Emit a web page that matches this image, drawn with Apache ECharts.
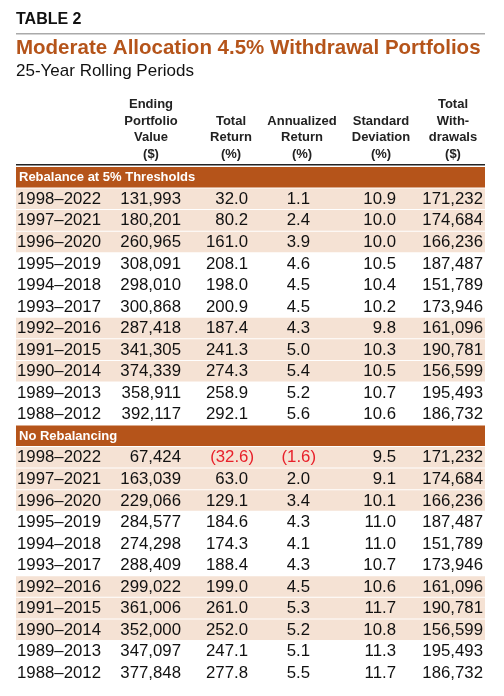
<!DOCTYPE html>
<html>
<head>
<meta charset="utf-8">
<script src="https://cdn.jsdelivr.net/npm/echarts@6/dist/echarts.min.js"></script>
<style>html,body{margin:0;padding:0;background:#fff}#chart{width:504px;height:696px}</style>
</head>
<body>
<div id="chart"></div>
<script>
// row labels
const periods = ['1998–2022', '1997–2021', '1996–2020', '1995–2019', '1994–2018', '1993–2017',
    '1992–2016', '1991–2015', '1990–2014', '1989–2013', '1988–2012'];
const sections = ['Rebalance at 5% Thresholds', 'No Rebalancing'];
const columnHeads = [
    ['Ending', 'Portfolio', 'Value', '($)'],
    ['Total', 'Return', '(%)'],
    ['Annualized', 'Return', '(%)'],
    ['Standard', 'Deviation', '(%)'],
    ['Total', 'With-', 'drawals', '($)']
];

// rebalance at 5% thresholds
const rebalEnding = [131993, 180201, 260965, 308091, 298010, 300868, 287418, 341305, 374339, 358911, 392117];
const rebalTotal = [32.0, 80.2, 161.0, 208.1, 198.0, 200.9, 187.4, 241.3, 274.3, 258.9, 292.1];
const rebalAnn = [1.1, 2.4, 3.9, 4.6, 4.5, 4.5, 4.3, 5.0, 5.4, 5.2, 5.6];
const rebalStd = [10.9, 10.0, 10.0, 10.5, 10.4, 10.2, 9.8, 10.3, 10.5, 10.7, 10.6];
const rebalWithdrawals = [171232, 174684, 166236, 187487, 151789, 173946, 161096, 190781, 156599, 195493, 186732];

// no rebalancing
const noEnding = [67424, 163039, 229066, 284577, 274298, 288409, 299022, 361006, 352000, 347097, 377848];
const noTotal = [-32.6, 63.0, 129.1, 184.6, 174.3, 188.4, 199.0, 261.0, 252.0, 247.1, 277.8];
const noAnn = [-1.6, 2.0, 3.4, 4.3, 4.1, 4.3, 4.5, 5.3, 5.2, 5.1, 5.5];
const noStd = [9.5, 9.1, 10.1, 11.0, 11.0, 10.7, 10.6, 11.7, 10.8, 11.3, 11.7];
const noWithdrawals = [171232, 174684, 166236, 187487, 151789, 173946, 161096, 190781, 156599, 195493, 186732];

const ORANGE = '#b5541a';
const SHADE = '#f5e2d4';
const FONT = '"Liberation Sans", Arial, sans-serif';

// [kind, label, ending, total, ann, std, withdrawals, shaded]
const rows = [];
function addSection(name, e, t, a, s, w) {
    rows.push(['head', name]);
    periods.forEach(function (p, i) {
        rows.push(['data', p, e[i], t[i], a[i], s[i], w[i], Math.floor(i / 3) % 2 === 0]);
    });
}
addSection(sections[0], rebalEnding, rebalTotal, rebalAnn, rebalStd, rebalWithdrawals);
addSection(sections[1], noEnding, noTotal, noAnn, noStd, noWithdrawals);

const LEFT = 16, RIGHT = 485;
const colRight = [181, 248, 310, 396, 483];
const colCenter = [151, 231, 302, 381, 453];

function fmtInt(v) { return v.toLocaleString('en-US'); }
function fmtDec(v) { return v < 0 ? '(' + Math.abs(v).toFixed(1) + ')' : v.toFixed(1); }

function renderItem(params, api) {
    const idx = api.value(0);
    const r = rows[idx];
    const h = api.size([0, 1])[1];
    const yc = api.coord([0, idx])[1];
    const top = yc - h / 2;
    const x0 = api.coord([LEFT, idx])[0];
    const x1 = api.coord([RIGHT, idx])[0];
    const kids = [];
    if (r[0] === 'head') {
        kids.push({type: 'rect', shape: {x: x0, y: top + 1, width: x1 - x0, height: h - 1}, style: {fill: ORANGE}});
        kids.push({type: 'text', style: {text: r[1], x: x0 + 3, y: yc + 1, verticalAlign: 'middle',
            font: 'bold 13px ' + FONT, fill: '#fff'}});
        return {type: 'group', children: kids};
    }
    if (r[7]) {
        kids.push({type: 'rect', shape: {x: x0, y: top + 1, width: x1 - x0, height: h - 1}, style: {fill: SHADE}});
    }
    kids.push({type: 'text', style: {text: r[1], x: x0 + 1, y: yc + 1, verticalAlign: 'middle',
        font: '16.8px ' + FONT, fill: '#111'}});
    const cells = [fmtInt(r[2]), fmtDec(r[3]), fmtDec(r[4]), fmtDec(r[5]), fmtInt(r[6])];
    const vals = [r[2], r[3], r[4], r[5], r[6]];
    cells.forEach(function (c, j) {
        const neg = vals[j] < 0;
        kids.push({type: 'text', style: {text: c, x: api.coord([colRight[j] + (neg ? 6 : 0), idx])[0],
            y: yc + 1, align: 'right', verticalAlign: 'middle',
            font: '16.8px ' + FONT, fill: neg ? '#e8202a' : '#111'}});
    });
    return {type: 'group', children: kids};
}

const graphics = [
    {type: 'text', left: 16, top: 12, style: {text: 'TABLE 2', font: 'bold 16px ' + FONT, fill: '#111'}},
    {type: 'rect', shape: {x: 16, y: 33, width: RIGHT - LEFT, height: 1.5}, style: {fill: '#aaa'}},
    {type: 'text', left: 16, top: 38, style: {text: 'Moderate Allocation 4.5% Withdrawal Portfolios',
        font: 'bold 20.5px ' + FONT, fill: ORANGE}},
    {type: 'text', left: 16, top: 63, style: {text: '25-Year Rolling Periods', font: '17px ' + FONT, fill: '#111'}},
    {type: 'rect', shape: {x: 16, y: 164, width: RIGHT - LEFT, height: 1.5}, style: {fill: '#222'}}
];
columnHeads.forEach(function (lines, j) {
    lines.forEach(function (t, k) {
        graphics.push({type: 'text', style: {text: t, x: colCenter[j], y: 161 - (lines.length - 1 - k) * 16.7,
            align: 'center', verticalAlign: 'bottom', font: 'bold 13px ' + FONT, fill: '#222'}});
    });
});

const chart = echarts.init(document.getElementById('chart'), null, {renderer: 'canvas'});
chart.setOption({
    animation: false,
    backgroundColor: '#fff',
    grid: {left: 0, right: 0, top: 166, bottom: 13},
    xAxis: {type: 'value', min: 0, max: 504, show: false},
    yAxis: {type: 'category', inverse: true, data: rows.map(function (r, i) { return i; }), show: false},
    graphic: graphics,
    series: [{
        type: 'custom',
        renderItem: renderItem,
        data: rows.map(function (r, i) { return [i]; }),
        encode: {y: 0},
        clip: false
    }]
});
</script>
</body>
</html>
